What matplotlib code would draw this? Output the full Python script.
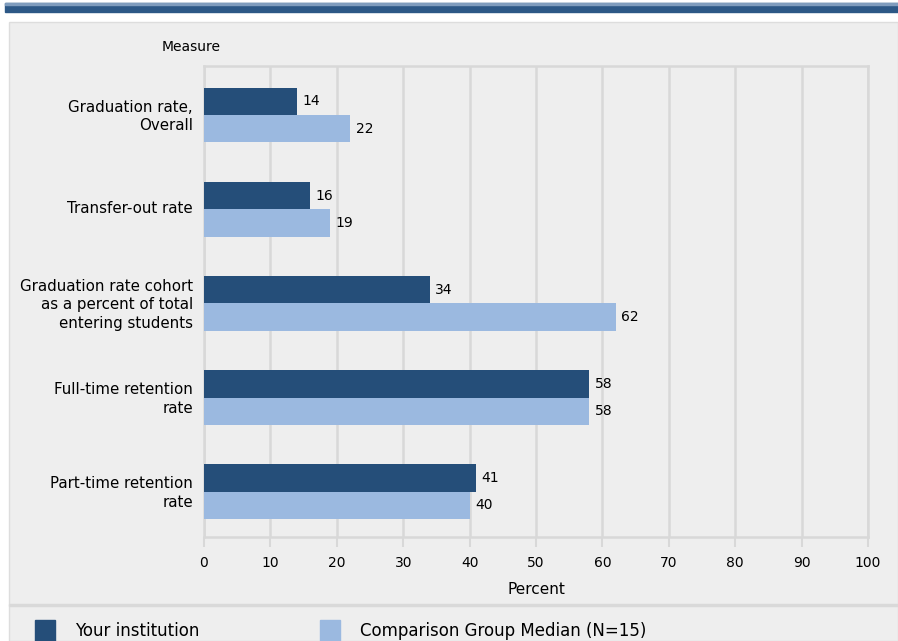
import matplotlib
matplotlib.use("Agg")
import matplotlib.pyplot as plt
from matplotlib.patches import Rectangle
import numpy as np

# measures, top to bottom
measures = [
    "Graduation rate,\nOverall",
    "Transfer-out rate",
    "Graduation rate cohort\nas a percent of total\nentering students",
    "Full-time retention\nrate",
    "Part-time retention\nrate",
]
institution = [14, 16, 34, 58, 41]
comparison = [22, 19, 62, 58, 40]
series_names = ["Your institution", "Comparison Group Median (N=15)"]
x_ticks = [0, 10, 20, 30, 40, 50, 60, 70, 80, 90, 100]

DARK = "#254e79"
LIGHT = "#9bb9e0"
PANEL = "#eeeeee"
GRID = "#d8d8d8"
FS = 10.5

plt.rcParams["font.family"] = ["DejaVu Sans"]
plt.rcParams["font.size"] = FS

W, H = 898, 641
fig = plt.figure(figsize=(W / 100, H / 100), dpi=100)
fig.patch.set_facecolor("white")


def box(x, y, w, h, **kw):
    """Add a rectangle given in pixels (top-left origin) to the figure."""
    r = Rectangle((x / W, 1 - (y + h) / H), w / W, h / H,
                  transform=fig.transFigure, **kw)
    fig.patches.append(r)
    return r


# header band and grey panel
box(5, 3, 893, 9, color="#2d5886", zorder=-2)
box(5, 3, 893, 2, color="#7f9cbd", zorder=-2)
box(9, 22, 889, 619, facecolor=PANEL, edgecolor="#dddddd", lw=1, zorder=-2)
box(9, 604, 889, 2, color="#d9d9d9", zorder=-1)

ax = fig.add_axes([204 / W, 1 - 537 / H, 664 / W, 471 / H])
ax.set_zorder(2)
ax.set_facecolor(PANEL)

y = np.arange(len(measures))
h = 0.29
b1 = ax.barh(y - h / 2 + 0.02, institution, height=h, color=DARK, zorder=3)
b2 = ax.barh(y + h / 2 + 0.02, comparison, height=h, color=LIGHT, zorder=3)
for bars in (b1, b2):
    ax.bar_label(bars, padding=4, fontsize=10, color="black")

ax.set_xlim(0, 100)
ax.set_ylim(len(measures) - 0.5, -0.5)
ax.set_xticks(x_ticks)
ax.set_yticks(y)
ax.set_yticklabels(measures, linespacing=1.3, fontsize=10.8)
ax.tick_params(axis="y", length=0, pad=8)
ax.tick_params(axis="x", length=7, width=1.5, color=GRID, pad=7, labelsize=10)
ax.xaxis.grid(True, color=GRID, lw=1.8, zorder=0)
for s in ax.spines.values():
    s.set_color(GRID)
    s.set_linewidth(1.8)

ax.set_xlabel("Percent", labelpad=8, fontsize=11)
fig.text(191 / W, 1 - 47 / H, "Measure", ha="center", va="center", fontsize=10)

# legend row
legend_items = [(35, series_names[0], DARK), (320, series_names[1], LIGHT)]
for x0, label, col in legend_items:
    box(x0, 620, 20, 21, color=col, zorder=1)
    fig.text((x0 + 40) / W, 1 - 631 / H, label, ha="left", va="center",
             fontsize=12)

fig.savefig("out.png", dpi=100, facecolor=fig.get_facecolor())
